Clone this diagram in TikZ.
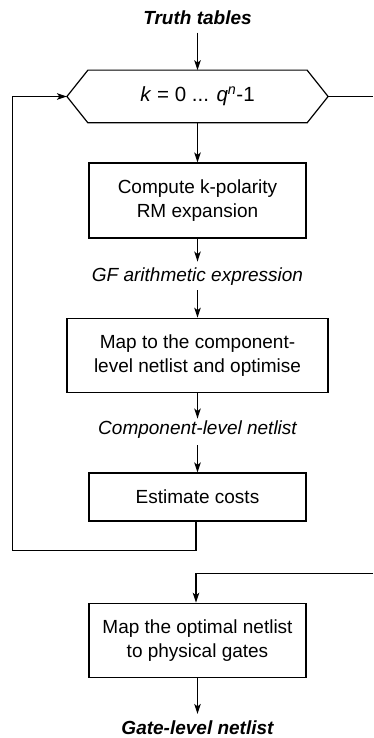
\documentclass[tikz,border=0pt]{standalone}
\usepackage{fontspec}
\setmainfont{Liberation Sans}
\usetikzlibrary{arrows.meta}
\begin{document}
\begin{tikzpicture}[x=1pt,y=-1pt,
  line width=1.2pt,
  arr/.style={-{Stealth[length=10pt,width=6.5pt,inset=2.5pt]}},
  txt/.style={font=\fontsize{19}{24}\selectfont, align=center, inner sep=0pt},
  stepbox/.style={txt, draw, minimum height=74pt, minimum width=217pt},
  lbl/.style={txt, font=\fontsize{19}{24}\selectfont\itshape},
  ttl/.style={txt, font=\fontsize{19}{24}\selectfont\bfseries\itshape}]
\useasboundingbox (0,0) rectangle (373,738);
\node[ttl] (truth) at (197.5,18) {Truth tables};
\node[txt, font=\fontsize{20.5}{24}\selectfont, minimum width=218pt, minimum height=51.5pt] (hex) at (197.5,96.5)
  {\textit{k} = 0 ... \textit{q}\textsuperscript{\textit{n}}-1};
\draw (hex.north west) -- (hex.north east) -- ([xshift=21pt]hex.east) -- (hex.south east)
  -- (hex.south west) -- ([xshift=-21pt]hex.west) -- cycle;
\coordinate (hexL) at ([xshift=-21pt]hex.west);
\coordinate (hexR) at ([xshift=21pt]hex.east);
\node[stepbox, minimum height=75pt] (b1) at (197.5,200.5) {Compute k-polarity\\RM expansion};
\node[lbl] (l1) at (197.5,277) {GF arithmetic expression};
\node[stepbox, minimum width=261pt] (b2) at (197.5,355.3) {Map to the component-\\level netlist and optimise};
\node[lbl] (l2) at (197.5,430) {Component-level netlist};
\node[stepbox, minimum height=48pt] (b3) at (197.5,497) {Estimate costs};
\node[stepbox] (b4) at (197.5,640.3) {Map the optimal netlist\\to physical gates};
\node[ttl] (gate) at (197.5,727.5) {Gate-level netlist};
\coordinate (loopB) at (196,550.7);
\coordinate (loopL) at (12.3,550.7);
\coordinate (loopT) at (12.3,96.5);
\coordinate (edgeR) at (373,96.5);
\coordinate (edgeR2) at (373,573.3);
\coordinate (downT) at (196,573.3);
\draw[arr] (truth.south) ++(0,7) -- (hex.north);
\draw[arr] (hex.south) -- (b1.north);
\draw[arr] (b1.south) -- ([yshift=6pt]l1.north);
\draw[arr] ([yshift=-4pt]l1.south) -- (b2.north);
\draw[arr] (b2.south) -- ([yshift=2pt]l2.north);
\draw[arr] ([yshift=-6pt]l2.south) -- (b3.north);
\draw (b3.south -| loopB) -- (loopB) -- (loopL) -- (loopT);
\draw[arr] (loopT) -- (hexL);
\draw (hexR) -- (edgeR);
\draw[arr] (edgeR2) -- (downT) -- (b4.north -| downT);
\draw[arr] (b4.south) -- ([yshift=6pt]gate.north);
\end{tikzpicture}
\end{document}
